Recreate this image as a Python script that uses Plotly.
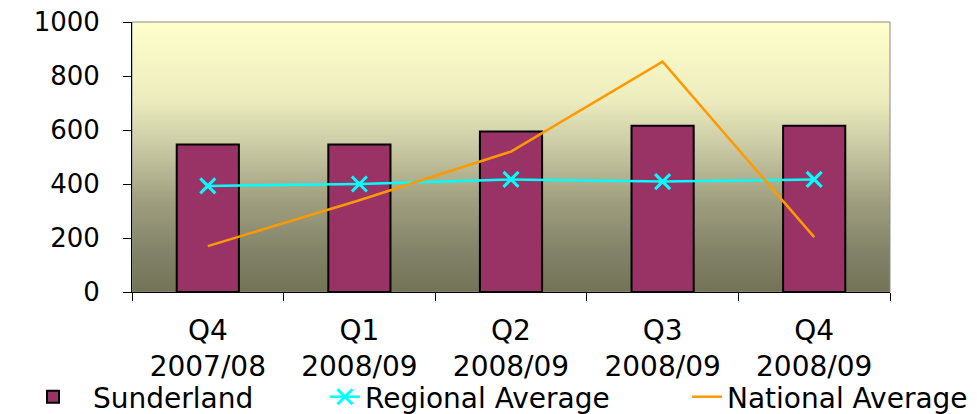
import base64
import struct
import zlib

import plotly.graph_objects as go

# Quarterly figures
quarters = ["Q4<br>2007/08", "Q1<br>2008/09", "Q2<br>2008/09", "Q3<br>2008/09", "Q4<br>2008/09"]
sunderland = [546, 546, 594, 616, 616]
regional_avg = [393, 400, 417, 409, 417]
national_avg = [170, 340, 520, 853, 203]

# Vertical background gradient for the plot area (bottom -> top)
bg_stops = [
    (0.00, (0x73, 0x73, 0x58)),
    (0.16, (0x84, 0x84, 0x6A)),
    (0.34, (0xA0, 0xA0, 0x80)),
    (0.53, (0xC8, 0xC8, 0xA3)),
    (0.71, (0xEC, 0xEC, 0xBE)),
    (1.00, (0xFF, 0xFF, 0xCC)),
]


def gradient_png(stops, height=256, width=2):
    def colour_at(t):
        for (t0, c0), (t1, c1) in zip(stops, stops[1:]):
            if t <= t1:
                f = (t - t0) / (t1 - t0) if t1 > t0 else 0
                return tuple(round(a + (b - a) * f) for a, b in zip(c0, c1))
        return stops[-1][1]

    raw = b""
    for row in range(height):
        t = 1 - row / (height - 1)
        raw += b"\x00" + bytes(colour_at(t)) * width

    def chunk(tag, data):
        body = tag + data
        return struct.pack(">I", len(data)) + body + struct.pack(">I", zlib.crc32(body) & 0xFFFFFFFF)

    png = b"\x89PNG\r\n\x1a\n"
    png += chunk(b"IHDR", struct.pack(">IIBBBBB", width, height, 8, 2, 0, 0, 0))
    png += chunk(b"IDAT", zlib.compress(raw, 9))
    png += chunk(b"IEND", b"")
    return "data:image/png;base64," + base64.b64encode(png).decode()


FONT = "DejaVu Sans"
W, H = 977, 414
M = dict(l=132, r=87, t=22, b=122)
plot_w = W - M["l"] - M["r"]
plot_h = H - M["t"] - M["b"]

fig = go.Figure()

fig.add_trace(go.Bar(
    x=quarters, y=sunderland, name="Sunderland", width=0.41, legend="legend",
    marker=dict(color="#993366", line=dict(color="black", width=2)),
))
fig.add_trace(go.Scatter(
    x=quarters, y=regional_avg, name="Regional Average", mode="lines+markers",
    legend="legend2",
    line=dict(color="#00FFFF", width=2.5),
    marker=dict(symbol="x-thin", size=15, line=dict(color="#00FFFF", width=3)),
))
fig.add_trace(go.Scatter(
    x=quarters, y=national_avg, name="National Average", mode="lines",
    legend="legend3",
    line=dict(color="#FF9900", width=2.5),
))

fig.add_layout_image(dict(
    source=gradient_png(bg_stops), xref="paper", yref="paper",
    x=0, y=1, sizex=1, sizey=1, sizing="stretch", layer="below",
))

# grey frame on top/right of the plot area
fig.add_shape(type="rect", xref="paper", yref="paper", x0=0, y0=0, x1=1, y1=1,
              line=dict(color="#8C8C8C", width=1), layer="below")


def legend_at(px_left, item_width):
    # one legend row along the bottom, placed by its left edge in pixels
    return dict(
        orientation="h", xref="paper", yref="paper",
        x=(px_left - M["l"]) / plot_w, y=(H - M["b"] - 397) / plot_h,
        xanchor="left", yanchor="middle",
        font=dict(size=28, family=FONT), itemwidth=item_width,
        bgcolor="rgba(0,0,0,0)",
    )


fig.update_layout(
    width=W, height=H,
    margin=dict(**M, autoexpand=False),
    paper_bgcolor="white", plot_bgcolor="rgba(0,0,0,0)",
    font=dict(family=FONT, color="black"),
    showlegend=True,
    legend=legend_at(13, 70),
    legend2=legend_at(325, 30),
    legend3=legend_at(687, 30),
    bargap=0.59,
)

fig.update_xaxes(
    type="category", tickson="boundaries", ticks="outside", ticklen=8,
    tickcolor="black", showline=True, linecolor="black", linewidth=1,
    showgrid=False, tickfont=dict(size=28, family=FONT), ticklabelstandoff=13,
    range=[-0.5, 4.5],
)
fig.update_yaxes(
    range=[0, 1000], dtick=200, ticks="outside", ticklen=8, tickcolor="black",
    showline=True, linecolor="black", linewidth=1, showgrid=False, zeroline=False,
    tickfont=dict(size=26, family=FONT), ticklabelstandoff=18,
)

fig.write_html("out.html")
